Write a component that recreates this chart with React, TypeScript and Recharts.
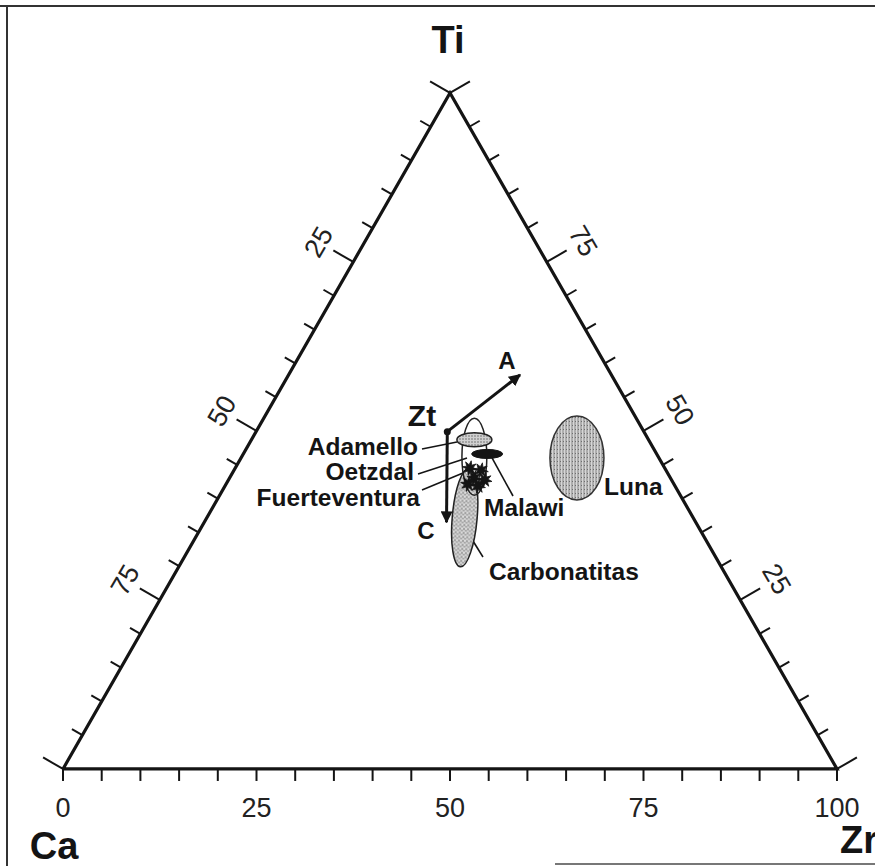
import { ReferenceLine, Scatter, ScatterChart, XAxis, YAxis } from "recharts";

// chart box and the plane the ternary lives in (Ca at origin, Zr at x=100)
const W = 875;
const H = 866;
const X0 = -8.14;
const X1 = 104.91;
const Y0 = -12.43;
const Y1 = 98.51;
const PXX = W / (X1 - X0);
const PXY = H / (Y1 - Y0);
const SQ = Math.sqrt(3) / 2;
const INK = "#141414";

const tern = (zr: number, ti: number) => ({ x: zr + ti / 2, y: ti * SQ });

// ---- data ----
const EDGE_TICKS = [0, 5, 10, 15, 20, 25, 30, 35, 40, 45, 50, 55, 60, 65, 70, 75, 80, 85, 90, 95, 100];
const MAJOR_TICKS = [0, 25, 50, 75, 100];
const BOTTOM_LABELS = [0, 25, 50, 75, 100]; // Zr along Ca–Zr
const LEFT_LABELS = [25, 50, 75]; // Ca along Ti–Ca
const RIGHT_LABELS = [75, 50, 25]; // Ti along Zr–Ti

const FIELDS = [
  { name: "Carbonatitas", zr: 33.3, ti: 37.2, rx: 1.61, ry: 6.34, tilt: 5 },
  { name: "Oetzdal", zr: 30.05, ti: 46.2, rx: 1.61, ry: 4.93, tilt: 0 },
  { name: "Adamello", zr: 28.8, ti: 48.7, rx: 2.26, ry: 0.9, tilt: 0 },
  { name: "Malawi", zr: 31.5, ti: 46.6, rx: 2.0, ry: 0.58, tilt: 0 },
  { name: "Luna", zr: 43.4, ti: 46.0, rx: 3.49, ry: 5.38, tilt: 0 },
];

const FUERTEVENTURA = [
  { zr: 30.3, ti: 44.5 },
  { zr: 31.9, ti: 44.2 },
  { zr: 31.6, ti: 43.05 },
  { zr: 33.1, ti: 42.75 },
  { zr: 31.25, ti: 42.15 },
  { zr: 32.7, ti: 41.85 },
];

const ZT = { zr: 24.7, ti: 49.9 };
const A_TIP = { zr: 29.9, ti: 58.3 };
const C_TIP = { zr: 31.3, ti: 36.5 };

const LEADERS = [
  { from: [46.38, 40.99], to: [50.9, 41.89] },
  { from: [45.87, 37.79], to: [52.2, 39.84] },
  { from: [46.38, 35.74], to: [51.68, 37.92] },
  { from: [55.43, 39.84], to: [58.14, 34.97] },
  { from: [51.68, 31.26], to: [54.26, 27.16] },
];

const FIELD_LABELS = [
  { text: "Adamello", x: 45.87, y: 41.3, anchor: "end" },
  { text: "Oetzdal", x: 45.35, y: 38.05, anchor: "end" },
  { text: "Fuerteventura", x: 46.12, y: 34.8, anchor: "end" },
  { text: "Malawi", x: 54.39, y: 33.44, anchor: "start" },
  { text: "Luna", x: 69.9, y: 36.13, anchor: "start" },
  { text: "Carbonatitas", x: 55.04, y: 25.24, anchor: "start" },
];

const POINT_LABELS = [
  { text: "Zt", x: 46.38, y: 45.22, size: 30 },
  { text: "A", x: 57.36, y: 52.27, size: 24 },
  { text: "C", x: 46.9, y: 30.49, size: 24 },
];

const FIELD_STYLE: Record<string, { fill: string; stroke: string; sw: number }> = {
  Carbonatitas: { fill: "url(#pCarb)", stroke: "#222", sw: 1.5 },
  Oetzdal: { fill: "none", stroke: "#222", sw: 1.5 },
  Adamello: { fill: "url(#pAdam)", stroke: "#222", sw: 1.5 },
  Malawi: { fill: INK, stroke: INK, sw: 1 },
  Luna: { fill: "url(#pLuna)", stroke: "#333", sw: 1.5 },
};

// px offsets turned into plane units
const off = (p: { x: number; y: number }, dx: number, dy: number) => ({
  x: p.x + dx / PXX,
  y: p.y - dy / PXY,
});

const tickLen = (v: number) => (MAJOR_TICKS.includes(v) ? 23 : 12);

const ticks: { a: { x: number; y: number }; b: { x: number; y: number } }[] = [];
EDGE_TICKS.forEach((v) => {
  const pb = tern(v, 0);
  ticks.push({ a: pb, b: off(pb, 0, 12) });
  const pl = tern(0, 100 - v);
  const L = tickLen(v);
  ticks.push({ a: pl, b: off(pl, -0.866 * L, -0.5 * L) });
  const pr = tern(100 - v, v);
  ticks.push({ a: pr, b: off(pr, 0.866 * L, -0.5 * L) });
});

const bottomLabelData = BOTTOM_LABELS.map((v) => ({ ...off(tern(v, 0), 0, 39), v, rot: 0 }));
const leftLabelData = LEFT_LABELS.map((v) => ({ ...off(tern(0, 100 - v), -0.866 * 40, -0.5 * 40), v, rot: -60 }));
const rightLabelData = RIGHT_LABELS.map((v) => ({ ...off(tern(100 - v, v), 0.866 * 42, -0.5 * 42), v, rot: 60 }));
const tickLabelData = [...bottomLabelData, ...leftLabelData, ...rightLabelData];

const triangle = [tern(0, 0), tern(100, 0), tern(0, 100), tern(0, 0)];
const fieldData = FIELDS.map((f) => ({ ...tern(f.zr, f.ti), ...f }));
const starData = FUERTEVENTURA.map((s) => tern(s.zr, s.ti));
const zt = tern(ZT.zr, ZT.ti);
const aTip = tern(A_TIP.zr, A_TIP.ti);
const cTip = tern(C_TIP.zr, C_TIP.ti);

const pxX = (px: number) => X0 + px / PXX;
const pxY = (py: number) => Y1 - py / PXY;

const bold = { fontFamily: "'Liberation Sans', Arial, sans-serif", fontWeight: 700, fill: INK };
const narrow = { fontFamily: "'Liberation Sans Narrow', 'Liberation Sans', Arial, sans-serif", fill: "#222" };

const Nothing = () => <g />;

const EllipseShape = (props: any) => {
  const { cx, cy, payload } = props;
  const st = FIELD_STYLE[payload.name];
  return (
    <ellipse
      cx={cx}
      cy={cy}
      rx={payload.rx * PXX}
      ry={payload.ry * PXY}
      fill={st.fill}
      stroke={st.stroke}
      strokeWidth={st.sw}
      transform={payload.tilt ? `rotate(${payload.tilt} ${cx} ${cy})` : undefined}
    />
  );
};

const StarShape = (props: any) => {
  const { cx, cy } = props;
  const pts: string[] = [];
  for (let i = 0; i < 16; i++) {
    const r = i % 2 === 0 ? 7.5 : 3.5;
    const a = (Math.PI * i) / 8 + 0.2;
    pts.push(`${cx + r * Math.cos(a)},${cy + r * Math.sin(a)}`);
  }
  return <polygon points={pts.join(" ")} fill={INK} stroke={INK} strokeWidth={0.8} />;
};

const TickLabel = (props: any) => {
  const { cx, cy, payload } = props;
  return (
    <text
      x={cx}
      y={cy}
      fontSize={27}
      textAnchor="middle"
      dominantBaseline="central"
      transform={payload.rot ? `rotate(${payload.rot} ${cx} ${cy})` : undefined}
      {...narrow}
    >
      {payload.v}
    </text>
  );
};

const FieldLabel = (props: any) => {
  const { cx, cy, payload } = props;
  return (
    <text x={cx} y={cy} fontSize={24.5} textAnchor={payload.anchor} dominantBaseline="central" {...bold}>
      {payload.text}
    </text>
  );
};

const PointLabel = (props: any) => {
  const { cx, cy, payload } = props;
  return (
    <text x={cx} y={cy} fontSize={payload.size} textAnchor="middle" dominantBaseline="central" {...bold}>
      {payload.text}
    </text>
  );
};

const ZtDot = (props: any) => <circle cx={props.cx} cy={props.cy} r={3.5} fill={INK} />;

export default function App() {
  return (
    <div style={{ position: "absolute", left: 0, top: 0, width: W, height: H, background: "#fff" }}>
      <ScatterChart width={W} height={H} margin={{ top: 0, right: 0, bottom: 0, left: 0 }}>
        <defs>
          <pattern id="pLuna" width="3" height="4" patternUnits="userSpaceOnUse">
            <rect width="3" height="4" fill="#adadad" />
            <rect x="0" width="1" height="4" fill="#d6d6d6" />
            <rect x="2" y="1" width="1" height="1" fill="#6e6e6e" />
          </pattern>
          <pattern id="pCarb" width="4" height="4" patternUnits="userSpaceOnUse">
            <rect width="4" height="4" fill="#cfcfcf" />
            <circle cx="1" cy="1" r="0.8" fill="#6a6a6a" />
            <circle cx="3" cy="2.8" r="0.7" fill="#7a7a7a" />
            <rect x="2.5" y="0" width="1" height="1" fill="#eee" />
          </pattern>
          <pattern id="pAdam" width="3" height="3" patternUnits="userSpaceOnUse">
            <rect width="3" height="3" fill="#d0d0d0" />
            <circle cx="1" cy="1" r="0.7" fill="#555" />
          </pattern>
          <marker id="arr" viewBox="0 0 10 10" refX="9" refY="5" markerWidth="4" markerHeight="4" orient="auto">
            <path d="M0,0 L10,5 L0,10 z" fill={INK} />
          </marker>
        </defs>
        <XAxis type="number" dataKey="x" domain={[X0, X1]} hide allowDataOverflow />
        <YAxis type="number" dataKey="y" domain={[Y0, Y1]} hide allowDataOverflow />

        {/* scan frame */}
        <ReferenceLine ifOverflow="visible" segment={[{ x: X0, y: pxY(6) }, { x: X1, y: pxY(6) }]} stroke="#333" strokeWidth={2} />
        <ReferenceLine ifOverflow="visible" segment={[{ x: pxX(7), y: Y0 }, { x: pxX(7), y: pxY(6) }]} stroke="#333" strokeWidth={2} />
        <ReferenceLine ifOverflow="visible" segment={[{ x: pxX(555), y: pxY(864) }, { x: X1, y: pxY(864) }]} stroke="#777" strokeWidth={2} />

        {ticks.map((t, i) => (
          <ReferenceLine key={`t${i}`} ifOverflow="visible" segment={[t.a, t.b]} stroke={INK} strokeWidth={2} />
        ))}

        <Scatter data={triangle} line={{ stroke: INK, strokeWidth: 3.2 }} shape={Nothing} isAnimationActive={false} />

        <Scatter data={fieldData} shape={EllipseShape} isAnimationActive={false} />
        <Scatter data={starData} shape={StarShape} isAnimationActive={false} />

        {LEADERS.map((l, i) => (
          <ReferenceLine
            key={`l${i}`}
            ifOverflow="visible"
            segment={[{ x: l.from[0], y: l.from[1] }, { x: l.to[0], y: l.to[1] }]}
            stroke={INK}
            strokeWidth={1.6}
          />
        ))}

        <ReferenceLine ifOverflow="visible" segment={[zt, aTip]} stroke={INK} strokeWidth={3} markerEnd="url(#arr)" />
        <ReferenceLine ifOverflow="visible" segment={[zt, cTip]} stroke={INK} strokeWidth={3} markerEnd="url(#arr)" />
        <Scatter data={[zt]} shape={ZtDot} isAnimationActive={false} />

        <Scatter data={tickLabelData} shape={TickLabel} isAnimationActive={false} />
        <Scatter data={FIELD_LABELS} shape={FieldLabel} isAnimationActive={false} />
        <Scatter data={POINT_LABELS} shape={PointLabel} isAnimationActive={false} />

        <Scatter
          data={[
            { x: pxX(448), y: pxY(40), text: "Ti", anchor: "middle" },
            { x: pxX(54), y: pxY(846), text: "Ca", anchor: "middle" },
            { x: pxX(840), y: pxY(840), text: "Zr", anchor: "start" },
          ]}
          shape={(p: any) => (
            <text x={p.cx} y={p.cy} fontSize={38} textAnchor={p.payload.anchor} dominantBaseline="central" {...bold}>
              {p.payload.text}
            </text>
          )}
          isAnimationActive={false}
        />
      </ScatterChart>
    </div>
  );
}
